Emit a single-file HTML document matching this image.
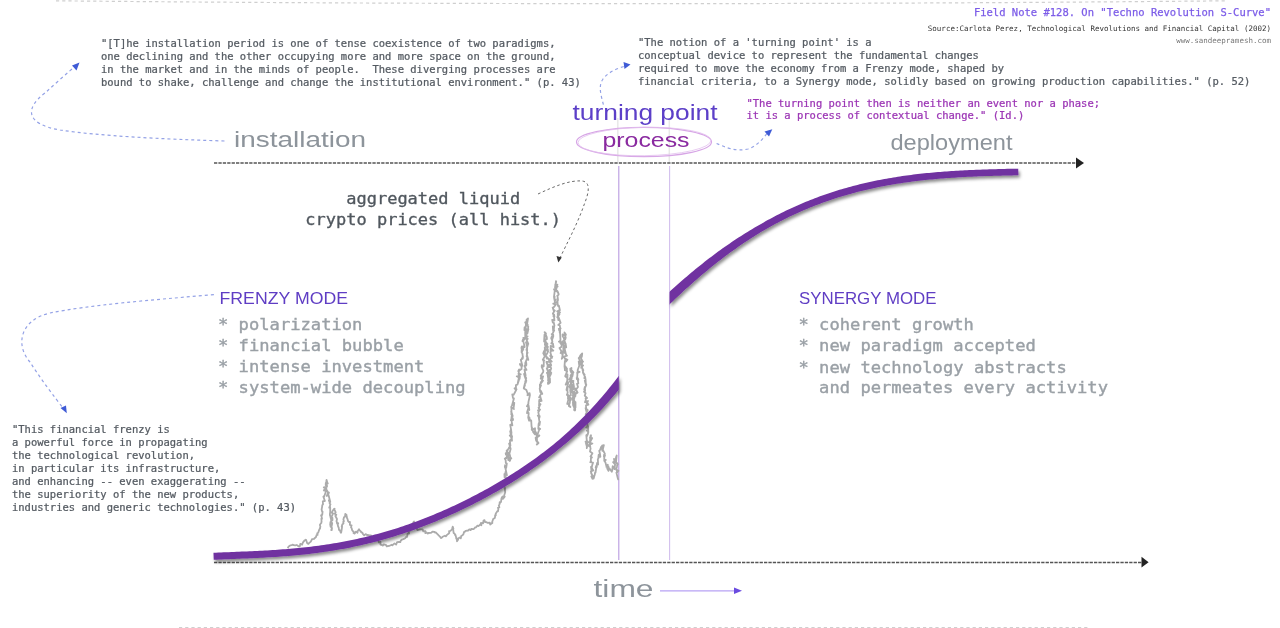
<!DOCTYPE html>
<html><head><meta charset="utf-8"><title>Techno Revolution S-Curve</title>
<style>
html,body{margin:0;padding:0;background:#fff;overflow:hidden;}
svg{display:block}
.m{font-family:"DejaVu Sans Mono","Liberation Mono",monospace;white-space:pre;}
text{white-space:pre;}
.h{font-family:"Liberation Sans","DejaVu Sans",sans-serif;}
</style></head><body>
<svg width="1280" height="628" viewBox="0 0 1280 628">
<defs>
<filter id="sh" x="-10%" y="-10%" width="130%" height="140%">
<feDropShadow dx="1.5" dy="2.5" stdDeviation="1.6" flood-color="#000" flood-opacity="0.45"/>
</filter>
</defs>
<rect width="1280" height="628" fill="#fff"/>
<!-- top dashed line -->
<path d="M56,0.8 Q640,6.5 1227,0.8" fill="none" stroke="#cfcfcf" stroke-width="1.2" stroke-dasharray="3.2 3"/>
<!-- bottom dashed line -->
<path d="M179,627.6 L1090,627.6" fill="none" stroke="#cfcfcf" stroke-width="1.4" stroke-dasharray="3.2 3"/>

<!-- faint vertical lines above axis -->
<line x1="617.8" y1="118" x2="617.8" y2="162" stroke="#e8e8e8" stroke-width="1.5"/>
<line x1="669.3" y1="118" x2="669.3" y2="162" stroke="#e8e8e8" stroke-width="1.5"/>

<!-- title block -->
<text class="m" x="1271" y="16" font-size="10.5" fill="#7c5ce8" stroke="#7c5ce8" stroke-width="0.25" text-anchor="end">Field Note #128. On "Techno Revolution S-Curve"</text>
<text class="m" x="1271" y="30.5" font-size="7.5" fill="#333" text-anchor="end">Source:Carlota Perez, Technological Revolutions and Financial Capital (2002)</text>
<text class="m" x="1271" y="43" font-size="7.5" fill="#777" text-anchor="end">www.sandeepramesh.com</text>

<!--SMALL-->
<!-- top-left quote -->
<g class="m" font-size="10.5" fill="#555b62" stroke="#555b62" stroke-width="0.25">
<text x="101" y="47" transform="matrix(1 0 0 0.93 0 3.290)">"[T]he installation period is one of tense coexistence of two paradigms,</text>
<text x="101" y="60" transform="matrix(1 0 0 0.93 0 4.200)">one declining and the other occupying more and more space on the ground,</text>
<text x="101" y="73" transform="matrix(1 0 0 0.93 0 5.110)">in the market and in the minds of people.  These diverging processes are</text>
<text x="101" y="86" transform="matrix(1 0 0 0.93 0 6.020)">bound to shake, challenge and change the institutional environment." (p. 43)</text>
</g>
<!-- top-middle quote -->
<g class="m" font-size="10.5" fill="#555b62" stroke="#555b62" stroke-width="0.25">
<text x="638" y="46" transform="matrix(1 0 0 0.93 0 3.220)">"The notion of a 'turning point' is a</text>
<text x="638" y="59" transform="matrix(1 0 0 0.93 0 4.130)">conceptual device to represent the fundamental changes</text>
<text x="638" y="72" transform="matrix(1 0 0 0.93 0 5.040)">required to move the economy from a Frenzy mode, shaped by</text>
<text x="638" y="85" transform="matrix(1 0 0 0.93 0 5.950)">financial criteria, to a Synergy mode, solidly based on growing production capabilities." (p. 52)</text>
</g>
<!-- purple quote -->
<g class="m" font-size="10.5" fill="#9c36b5" stroke="#9c36b5" stroke-width="0.25">
<text x="746.5" y="107" transform="matrix(1 0 0 0.93 0 7.490)">"The turning point then is neither an event nor a phase;</text>
<text x="746.5" y="119.5" transform="matrix(1 0 0 0.93 0 8.365)">it is a process of contextual change." (Id.)</text>
</g>

<!--/SMALL-->
<!-- handwritten labels -->
<text class="h" x="234" y="147.2" font-size="21.5" fill="#8d949b" textLength="132" lengthAdjust="spacingAndGlyphs">installation</text>
<text class="h" x="572.5" y="120" font-size="22" fill="#5c3fc8" textLength="145" lengthAdjust="spacingAndGlyphs">turning point</text>
<text class="h" x="602.5" y="147.2" font-size="20.5" fill="#8a2aa0" textLength="87" lengthAdjust="spacingAndGlyphs">process</text>
<text class="h" x="890.5" y="149.8" font-size="21.5" fill="#8d949b" textLength="122" lengthAdjust="spacingAndGlyphs">deployment</text>
<text class="h" x="593.5" y="596.8" font-size="23.5" fill="#8d949b" textLength="60" lengthAdjust="spacingAndGlyphs">time</text>

<!-- ellipse around process -->
<ellipse cx="644" cy="142" rx="67.5" ry="14.6" fill="none" stroke="#d7a6e6" stroke-width="1.2"/>
<ellipse cx="644.5" cy="141.5" rx="66.5" ry="14.2" fill="none" stroke="#e3c0ee" stroke-width="0.8" transform="rotate(-1 644 142)"/>

<!-- purple verticals -->
<line x1="618.8" y1="166" x2="618.8" y2="560" stroke="#b89ae0" stroke-width="1.1"/>
<line x1="669.6" y1="166" x2="669.6" y2="560" stroke="#d2bfee" stroke-width="1.1"/>

<!-- axes -->
<line x1="214" y1="163" x2="1078" y2="163" stroke="#555" stroke-width="1.5" stroke-dasharray="3.3 1.1"/>
<path d="M1076,157.5 L1084,163 L1076,168.5 Z" fill="#222"/>
<line x1="214" y1="562.5" x2="1143" y2="562.5" stroke="#555" stroke-width="1.5" stroke-dasharray="3.3 1.1"/>
<path d="M1141.5,556.8 L1148.6,562.3 L1141.5,567.6 Z" fill="#222"/>

<!-- time arrow -->
<line x1="660" y1="590.8" x2="736" y2="590.8" stroke="#b7a2f4" stroke-width="1.3"/>
<path d="M734,587.6 L742,590.8 L734,594 Z" fill="#6a4be0"/>

<!-- crypto chart -->
<path d="M287.7,548.2 L288.7,546.4 L290.5,545.3 L291.7,545.2 L292.9,544.7 L293.7,545.2 L295.2,545.4 L296.7,545.0 L298.9,546.5 L299.8,546.4 L300.3,543.8 L302.1,544.7 L303.0,542.3 L304.6,540.4 L305.4,540.0 L305.8,539.6 L306.1,540.0 L307.2,543.3 L308.4,543.9 L309.0,543.1 L310.8,541.6 L311.7,539.8 L312.0,539.2 L314.1,538.8 L314.6,538.2 L316.0,537.0 L316.5,535.2 L317.6,534.9 L317.2,533.3 L318.2,532.8 L319.1,530.0 L320.1,528.3 L319.7,528.7 L320.4,526.7 L320.0,525.4 L320.0,524.5 L321.3,523.0 L321.6,521.0 L321.5,520.4 L321.4,518.7 L322.0,518.7 L321.6,516.6 L321.1,515.4 L322.2,514.9 L322.6,511.7 L322.1,511.4 L321.6,509.5 L322.0,507.3 L322.0,507.7 L322.3,505.1 L323.0,504.4 L323.0,503.9 L322.8,501.4 L323.7,501.1 L324.9,501.0 L323.4,496.7 L324.3,495.8 L324.0,497.0 L326.1,491.0 L323.8,490.2 L324.1,490.5 L325.5,487.8 L323.8,487.5 L325.1,487.2 L327.1,486.7 L325.9,484.9 L326.6,480.0 L327.5,483.4 L326.4,480.3 L327.8,483.5 L326.4,482.3 L325.7,485.2 L325.8,482.9 L326.4,484.8 L327.0,485.4 L326.1,487.4 L326.6,490.1 L328.1,492.3 L326.8,496.0 L328.9,492.6 L327.9,495.2 L328.5,495.0 L330.3,501.9 L329.3,500.0 L328.9,500.3 L329.8,502.6 L329.6,503.3 L330.5,504.3 L329.2,507.7 L330.1,506.9 L330.2,507.9 L330.2,511.7 L330.8,512.3 L330.0,512.7 L329.9,515.1 L330.5,516.4 L330.3,516.3 L331.1,519.6 L331.2,520.4 L331.2,521.6 L330.4,522.3 L330.6,522.3 L330.2,524.3 L330.6,526.7 L331.8,527.3 L331.8,530.1 L331.2,530.1 L332.0,528.4 L330.9,526.7 L331.0,525.3 L331.7,525.7 L332.2,523.3 L332.0,522.8 L331.1,521.1 L332.5,520.0 L332.4,517.9 L331.5,517.4 L331.9,516.0 L333.0,513.6 L332.2,513.7 L332.4,511.2 L333.9,509.1 L334.6,508.7 L334.2,509.2 L335.7,512.3 L334.7,513.8 L336.3,514.8 L335.5,515.9 L335.4,516.0 L337.0,519.0 L336.5,521.2 L336.7,521.5 L337.1,523.7 L338.2,523.2 L337.7,524.7 L338.2,526.7 L338.7,527.5 L339.0,530.0 L339.8,530.1 L340.7,532.5 L341.0,532.7 L341.2,532.4 L341.6,530.1 L342.0,527.4 L342.1,526.5 L341.7,526.7 L342.3,524.5 L343.5,523.4 L343.2,521.9 L343.9,521.3 L343.4,519.4 L344.0,517.3 L345.1,516.5 L345.1,515.8 L345.3,513.8 L346.5,514.9 L346.6,516.3 L347.0,518.0 L347.5,518.9 L348.1,521.2 L349.0,522.2 L350.0,521.9 L349.9,524.9 L350.4,525.0 L351.6,525.3 L351.0,527.3 L351.6,528.0 L352.2,530.4 L353.9,532.2 L353.5,532.9 L354.7,533.6 L356.0,531.6 L357.5,532.7 L357.5,531.6 L359.0,529.3 L359.7,530.3 L361.5,532.2 L361.1,532.1 L362.5,532.9 L362.8,533.8 L364.2,535.3 L365.9,534.1 L367.0,535.1 L367.5,534.9 L369.8,535.3 L371.0,535.3 L371.5,537.4 L373.8,538.2 L373.9,537.2 L374.9,539.4 L376.5,538.6 L378.0,540.4 L378.9,542.5 L380.5,541.9 L380.4,544.6 L382.1,545.1 L383.0,545.6 L383.8,544.3 L386.2,545.1 L386.7,546.3 L389.0,545.8 L389.6,545.8 L391.7,544.7 L392.4,545.2 L394.5,543.4 L396.1,544.6 L397.1,542.1 L398.9,541.9 L400.3,542.2 L400.8,540.5 L401.8,539.7 L403.4,539.1 L405.2,538.2 L406.0,537.0 L407.1,537.0 L407.4,534.6 L407.8,533.4 L409.1,533.6 L408.7,532.2 L410.4,530.0 L410.8,529.7 L410.8,529.5 L411.2,527.5 L412.2,527.5 L412.2,525.9 L413.3,524.2 L413.3,522.3 L414.0,521.5 L413.8,521.8 L414.3,524.6 L415.1,524.3 L415.3,527.3 L417.1,528.1 L416.7,528.2 L417.5,530.1 L418.9,529.7 L420.4,529.4 L422.6,529.3 L423.3,531.4 L425.4,531.1 L425.3,533.1 L426.5,532.4 L427.8,533.6 L428.4,533.0 L430.5,532.9 L431.4,532.6 L432.4,531.6 L434.6,531.9 L434.9,532.5 L435.8,532.4 L437.2,533.8 L438.7,535.4 L439.9,536.6 L440.9,538.0 L441.5,537.9 L442.6,536.8 L444.9,535.7 L445.8,536.3 L446.7,535.3 L446.7,535.1 L448.8,533.5 L449.3,532.9 L449.1,531.1 L450.5,530.8 L451.7,529.7 L452.1,528.8 L452.7,526.7 L453.4,528.5 L453.0,528.1 L453.3,530.3 L453.6,532.9 L454.7,533.7 L455.2,535.1 L455.4,534.7 L456.3,538.0 L456.2,538.7 L456.9,538.8 L457.0,541.3 L458.2,539.6 L458.0,538.6 L459.9,537.4 L460.8,538.4 L461.3,535.8 L462.1,535.5 L463.4,534.3 L464.1,531.8 L464.7,531.9 L465.6,530.8 L468.1,530.5 L469.3,529.3 L470.7,530.1 L471.3,528.8 L473.6,529.2 L475.0,527.5 L476.1,527.3 L477.3,525.7 L478.7,526.0 L480.3,524.3 L481.4,525.2 L480.8,523.0 L483.1,523.4 L483.5,520.6 L484.5,520.2 L485.2,522.2 L486.3,522.1 L487.3,522.8 L489.8,522.7 L490.2,524.5 L491.5,523.5 L492.4,522.9 L492.1,522.3 L493.2,519.0 L493.2,519.1 L494.8,518.1 L495.1,516.3 L495.1,515.2 L495.8,515.3 L495.7,513.8 L497.5,510.9 L498.0,511.2 L498.4,508.9 L498.0,507.9 L499.4,507.2 L498.8,505.5 L499.5,504.5 L499.7,502.1 L500.1,503.0 L501.0,502.0 L501.5,498.2 L502.5,496.5 L503.1,497.3 L502.9,498.9 L504.7,496.7 L504.0,496.0 L505.2,492.3 L504.7,487.8 L504.9,489.1 L505.1,489.0 L503.8,483.9 L506.0,483.1 L504.8,483.1 L504.4,484.3 L505.2,481.5 L506.8,478.6 L505.8,477.6 L505.6,476.8 L504.4,474.0 L504.6,477.4 L505.6,471.7 L506.9,475.3 L505.5,468.5 L504.8,466.9 L505.3,465.5 L505.0,465.3 L506.2,468.0 L506.8,463.6 L505.8,463.0 L505.7,460.4 L504.8,458.7 L507.7,456.4 L506.3,458.3 L507.5,454.3 L505.7,453.2 L506.2,453.1 L508.0,454.4 L506.6,450.8 L508.2,449.0 L505.9,454.7 L509.0,454.5 L508.4,452.7 L508.2,459.9 L510.0,460.7 L510.8,458.1 L509.7,461.0 L508.5,457.5 L509.9,459.5 L511.3,458.4 L510.4,457.4 L509.8,454.7 L508.6,454.8 L509.2,454.4 L510.6,449.1 L509.0,447.4 L510.7,449.0 L509.1,443.6 L510.4,445.6 L510.0,442.0 L510.8,439.3 L509.9,440.8 L512.0,440.7 L511.8,438.2 L509.8,435.5 L512.2,437.1 L510.2,431.4 L510.8,434.2 L510.6,430.2 L511.5,433.2 L511.0,429.1 L510.2,424.8 L510.7,426.0 L511.9,423.2 L512.4,425.4 L511.5,420.6 L513.1,420.0 L512.7,418.1 L510.9,420.2 L511.2,420.1 L512.0,413.9 L511.2,414.1 L512.7,416.1 L511.2,411.3 L511.5,413.7 L511.4,406.4 L511.2,407.3 L514.0,409.1 L513.5,408.5 L514.3,402.9 L512.0,405.5 L513.9,398.4 L513.7,399.3 L512.9,397.7 L512.3,394.3 L512.8,395.2 L513.6,394.8 L515.5,391.1 L516.0,390.4 L514.6,393.0 L516.5,389.3 L514.5,388.3 L516.0,389.8 L515.9,385.0 L517.4,384.6 L518.9,380.2 L517.6,383.9 L518.9,377.6 L516.8,376.3 L519.9,376.2 L519.6,379.0 L518.5,373.6 L520.7,374.4 L518.7,373.7 L519.1,369.5 L518.3,371.2 L521.5,369.1 L521.8,363.8 L520.6,365.5 L519.9,364.0 L522.4,365.7 L520.8,359.8 L521.1,360.0 L522.9,356.6 L522.6,358.8 L522.9,357.7 L522.4,353.5 L521.6,352.3 L523.3,349.2 L521.6,352.1 L521.9,346.3 L521.4,348.1 L523.1,346.4 L522.7,348.1 L524.7,346.9 L522.9,339.7 L522.5,341.1 L524.6,339.4 L523.3,337.9 L524.7,338.2 L525.3,337.9 L525.2,332.0 L525.9,331.7 L525.2,330.9 L526.0,328.5 L524.6,327.4 L524.4,330.2 L526.0,325.3 L525.6,328.2 L526.1,322.0 L527.2,323.4 L528.0,318.5 L526.6,319.7 L526.6,323.1 L527.8,325.0 L525.2,322.3 L525.5,323.0 L528.3,326.8 L528.2,326.8 L528.1,328.6 L526.2,332.0 L528.4,329.1 L527.3,333.7 L526.1,333.4 L525.9,333.6 L526.3,337.5 L527.6,336.3 L525.6,338.4 L527.8,338.8 L526.7,340.2 L528.3,343.8 L526.0,342.2 L527.1,346.4 L527.9,344.8 L526.4,350.0 L527.2,348.7 L526.9,354.3 L527.6,352.7 L526.9,354.4 L526.9,354.8 L528.3,359.8 L526.6,356.1 L527.6,357.4 L525.2,363.2 L526.4,364.0 L526.2,365.7 L526.2,362.4 L524.6,366.3 L526.5,369.9 L524.6,369.3 L525.4,369.9 L524.5,369.8 L525.6,375.3 L524.1,373.8 L526.2,378.2 L524.1,374.1 L526.3,380.9 L524.7,376.3 L526.0,379.7 L525.8,382.6 L525.4,380.9 L525.1,382.7 L523.8,388.0 L525.0,385.0 L523.8,388.4 L524.4,388.8 L525.9,389.7 L526.3,389.8 L528.2,395.0 L528.9,393.5 L527.4,395.2 L529.6,393.2 L529.9,395.1 L529.1,399.2 L529.1,399.0 L528.4,402.1 L528.4,403.9 L528.4,403.8 L527.0,406.3 L528.5,405.2 L529.3,410.0 L528.3,407.5 L528.3,408.4 L527.2,411.8 L527.0,413.2 L528.3,412.0 L528.7,413.6 L528.2,417.6 L529.1,420.7 L529.4,417.3 L529.9,420.7 L531.2,420.4 L531.6,427.2 L532.0,427.3 L531.7,429.6 L532.7,430.7 L533.3,429.1 L535.0,428.2 L535.0,434.4 L533.1,432.0 L535.8,432.0 L536.6,434.0 L536.8,434.5 L536.2,440.7 L535.6,437.8 L537.0,439.4 L535.9,439.8 L537.8,443.1 L536.8,444.6 L538.5,443.0 L537.0,441.0 L536.9,438.0 L538.6,435.6 L539.4,435.5 L538.6,436.3 L537.1,435.7 L538.9,430.5 L539.5,428.4 L540.2,429.0 L538.3,428.9 L538.6,423.8 L539.6,421.7 L540.0,421.7 L539.5,425.0 L539.4,421.6 L538.6,416.1 L537.8,415.7 L539.7,416.2 L539.4,417.8 L538.3,412.2 L540.0,409.6 L538.0,410.4 L539.7,410.0 L538.5,407.7 L539.0,407.8 L540.3,404.0 L540.5,404.4 L539.0,406.0 L539.4,399.6 L539.1,401.4 L541.6,400.9 L540.2,396.3 L539.1,397.4 L540.9,394.1 L541.3,393.4 L542.3,393.9 L541.0,391.0 L540.3,392.2 L539.7,388.5 L541.0,385.3 L540.0,387.4 L539.9,384.6 L543.0,380.7 L540.7,382.3 L541.8,381.2 L542.9,376.8 L541.4,376.3 L540.7,378.7 L543.1,376.3 L540.7,375.8 L543.2,372.0 L543.3,370.6 L541.7,367.0 L541.8,365.2 L542.3,368.4 L542.9,365.5 L543.7,366.4 L543.8,361.4 L543.5,361.1 L544.3,360.3 L542.8,359.8 L545.2,355.7 L545.0,353.1 L543.2,353.2 L544.8,356.4 L545.0,351.1 L545.5,349.8 L543.6,352.2 L545.0,349.5 L545.2,350.0 L544.7,347.8 L545.6,346.6 L544.9,344.4 L545.5,340.4 L544.4,341.1 L544.1,341.6 L544.5,334.6 L544.5,339.1 L545.4,332.7 L546.0,333.7 L544.6,332.1 L546.8,337.2 L546.9,339.1 L544.9,339.5 L546.0,342.3 L547.5,344.0 L545.2,345.2 L548.0,347.0 L545.5,343.6 L545.6,343.8 L548.0,350.1 L547.4,351.4 L547.5,349.3 L545.9,349.4 L548.1,351.4 L546.8,354.1 L545.9,354.3 L546.8,358.6 L547.2,357.4 L549.2,359.8 L548.9,361.9 L546.4,361.9 L547.7,365.5 L547.5,366.3 L548.2,364.5 L549.3,365.0 L549.3,366.8 L546.8,368.3 L549.3,374.6 L546.9,372.8 L548.6,376.1 L547.7,375.4 L548.3,378.9 L548.1,380.9 L548.3,377.6 L549.7,380.7 L547.9,382.9 L549.2,383.3 L548.0,383.8 L550.0,382.5 L549.9,378.4 L549.3,377.4 L550.9,374.1 L551.0,372.4 L549.0,372.6 L551.3,372.8 L549.7,373.9 L549.3,369.9 L550.4,370.5 L551.2,368.5 L550.0,365.1 L549.5,367.1 L551.2,365.2 L549.7,361.9 L551.8,361.5 L549.8,359.4 L552.3,356.7 L550.2,355.8 L552.0,357.9 L550.3,352.2 L550.7,352.0 L551.7,349.6 L551.1,348.5 L553.3,350.6 L550.6,350.8 L550.7,345.8 L553.6,347.1 L552.9,343.5 L551.3,343.5 L552.4,341.3 L551.2,338.1 L552.2,335.7 L552.3,339.2 L553.3,336.1 L553.2,334.5 L551.7,334.1 L552.6,333.7 L554.2,330.4 L553.2,331.2 L552.8,326.5 L553.8,329.4 L554.1,326.9 L554.4,325.5 L553.8,322.7 L552.8,322.6 L552.2,319.9 L554.4,320.5 L554.0,316.2 L553.4,316.2 L554.1,314.6 L554.4,316.7 L552.9,313.6 L554.8,310.6 L554.0,310.0 L554.1,311.7 L552.7,307.6 L553.2,307.8 L555.8,304.7 L553.2,303.7 L554.8,303.3 L554.8,301.5 L555.9,299.4 L554.7,300.7 L554.1,297.7 L554.8,296.9 L554.0,296.9 L554.9,289.6 L554.7,290.5 L554.0,289.3 L555.4,289.7 L555.3,285.6 L555.0,287.3 L557.4,284.6 L555.2,285.0 L556.2,281.7 L556.0,281.2 L555.3,286.1 L557.6,286.5 L556.6,287.3 L556.0,291.2 L556.5,290.4 L558.1,292.9 L557.1,290.8 L557.5,291.1 L558.6,293.8 L558.7,294.6 L557.3,295.8 L557.6,296.7 L558.0,300.0 L556.5,302.7 L557.5,301.0 L557.6,303.8 L558.1,306.1 L558.9,305.7 L559.9,310.2 L557.2,311.3 L560.0,312.4 L557.6,314.0 L559.3,310.1 L557.3,317.4 L559.5,314.2 L557.8,314.8 L558.3,320.2 L558.7,317.5 L560.6,322.9 L558.3,324.9 L559.8,325.5 L560.1,327.6 L560.6,328.5 L558.8,328.9 L559.9,330.5 L559.7,332.8 L560.2,330.1 L559.2,330.6 L560.1,331.4 L560.1,333.3 L560.3,336.9 L560.5,340.5 L558.9,341.7 L560.5,341.2 L561.2,344.3 L560.3,343.0 L562.3,342.1 L561.3,347.0 L559.5,348.1 L561.6,351.5 L560.6,353.1 L561.3,351.3 L561.3,352.7 L562.9,351.0 L562.6,356.1 L561.8,358.8 L562.6,357.8 L562.3,356.3 L562.9,356.9 L562.0,353.4 L562.8,352.8 L564.1,349.8 L564.2,349.2 L563.3,347.0 L563.4,350.1 L564.0,347.6 L563.1,343.3 L563.1,343.6 L564.2,343.6 L562.4,341.8 L565.2,339.4 L562.7,336.5 L562.6,334.4 L565.6,335.8 L564.9,335.6 L564.5,332.4 L565.9,334.4 L565.0,335.8 L565.3,337.0 L565.3,335.8 L565.4,338.7 L565.7,337.7 L563.9,338.6 L565.9,345.6 L565.6,343.4 L566.2,347.4 L565.4,345.3 L564.6,347.7 L564.7,349.0 L565.8,353.6 L564.0,352.5 L564.0,351.0 L566.6,355.2 L567.0,355.7 L564.1,356.6 L566.1,361.5 L567.4,359.8 L565.6,358.7 L566.4,360.8 L564.9,360.8 L564.5,366.4 L564.9,369.5 L564.9,370.2 L565.1,366.1 L567.0,368.8 L566.4,371.8 L567.2,371.1 L565.2,376.2 L567.4,378.0 L567.5,374.4 L567.3,379.8 L566.9,382.5 L566.3,384.0 L567.9,379.3 L565.7,384.7 L568.4,382.3 L566.9,387.8 L566.5,390.0 L567.7,386.2 L567.4,390.8 L567.7,392.8 L566.9,394.9 L567.7,395.2 L568.6,395.1 L567.9,398.8 L569.8,400.1 L568.7,398.3 L567.2,403.9 L569.4,404.3 L568.3,404.2 L570.4,407.0 L569.0,406.2 L569.4,403.7 L568.9,406.0 L568.9,403.4 L569.7,403.5 L570.4,398.2 L567.9,396.8 L569.4,397.5 L570.7,398.1 L568.3,396.5 L570.9,395.4 L570.2,390.3 L571.2,392.4 L570.7,391.7 L569.7,385.1 L570.5,388.3 L569.4,386.7 L571.8,382.1 L570.9,383.6 L570.5,379.3 L569.9,381.5 L571.7,378.3 L569.6,379.2 L571.9,374.2 L571.3,377.1 L572.4,373.4 L571.2,372.5 L570.3,368.7 L570.4,370.6 L571.5,368.0 L571.1,369.7 L571.4,370.7 L570.6,369.0 L573.4,372.4 L570.6,375.4 L572.9,373.7 L572.4,376.2 L572.2,375.4 L570.7,383.0 L573.5,381.0 L572.6,380.9 L573.4,383.3 L574.0,386.8 L573.7,389.3 L571.9,384.7 L571.8,387.0 L571.5,387.4 L573.1,394.0 L572.9,395.8 L574.4,391.5 L573.5,394.9 L572.1,399.8 L572.6,398.6 L573.9,402.4 L574.1,400.1 L573.4,399.9 L575.2,406.6 L572.9,401.8 L573.1,405.1 L575.2,410.0 L575.1,405.8 L574.1,410.0 L575.2,410.0 L574.9,410.5 L573.2,403.8 L575.5,407.5 L575.5,402.1 L575.3,403.7 L573.9,399.6 L574.6,397.0 L575.5,396.0 L574.8,394.5 L576.4,392.3 L576.7,392.1 L574.7,395.5 L575.4,394.2 L577.6,392.6 L575.5,388.5 L575.5,390.2 L578.0,387.0 L577.0,383.8 L578.3,383.4 L577.8,379.9 L576.7,378.0 L578.4,379.9 L577.9,378.2 L576.9,379.2 L577.4,374.9 L577.2,372.7 L579.6,371.8 L577.6,371.4 L578.2,372.7 L577.7,371.8 L577.7,370.0 L579.8,364.2 L579.3,363.4 L578.7,361.5 L579.2,365.2 L581.4,363.4 L578.7,358.0 L581.4,355.2 L581.0,355.3 L580.4,355.3 L582.2,353.5 L581.8,357.0 L579.9,356.2 L582.4,360.9 L580.5,361.6 L583.1,361.6 L582.2,362.4 L581.2,367.8 L583.1,365.5 L581.3,366.1 L583.3,370.1 L582.4,369.6 L583.7,374.1 L584.6,374.7 L582.9,372.7 L584.8,376.3 L584.3,378.2 L585.1,376.7 L585.6,379.8 L585.8,384.6 L584.8,380.5 L586.3,384.8 L586.3,384.8 L584.2,389.7 L584.9,386.8 L585.1,390.9 L584.0,391.7 L585.6,393.1 L584.7,395.7 L587.0,398.0 L585.6,398.3 L585.9,399.9 L585.0,402.1 L588.0,401.0 L586.7,402.6 L586.8,403.7 L587.0,402.0 L588.4,404.7 L586.0,405.3 L586.3,411.3 L585.6,408.1 L587.8,410.1 L585.7,414.1 L587.6,415.0 L588.0,413.7 L588.6,419.0 L587.5,419.0 L586.0,417.9 L587.4,421.7 L586.7,420.6 L587.1,422.0 L587.6,427.9 L586.2,427.4 L588.1,426.1 L588.3,432.4 L586.9,430.4 L588.3,432.4 L586.8,436.4 L588.0,433.9 L586.3,435.2 L586.8,440.7 L588.0,441.6 L588.0,442.5 L585.5,441.7 L588.4,445.7 L586.1,443.7 L587.3,444.7 L586.9,444.1 L586.8,448.2 L587.0,447.0 L586.0,443.4 L589.4,446.2 L589.7,444.0 L589.7,444.3 L590.3,437.6 L589.9,437.8 L590.4,436.6 L590.4,439.5 L590.6,435.5 L591.0,435.2 L590.8,437.7 L592.2,438.1 L590.2,441.7 L589.7,442.7 L592.4,443.5 L590.3,444.5 L591.2,443.7 L589.9,444.9 L590.5,448.0 L590.6,448.3 L590.0,451.5 L592.4,453.3 L591.6,454.8 L590.5,456.5 L591.4,456.8 L591.9,457.6 L591.0,457.5 L590.8,460.5 L591.4,462.3 L590.2,462.1 L593.0,462.7 L592.1,465.6 L591.3,470.1 L591.4,470.0 L591.0,466.8 L593.3,470.5 L590.8,471.5 L592.1,475.1 L591.1,473.1 L593.9,477.7 L591.3,476.4 L592.5,478.8 L592.4,478.6 L593.6,478.5 L594.6,475.1 L594.7,475.2 L595.1,472.3 L595.5,472.5 L596.3,467.5 L596.5,465.4 L595.7,467.3 L596.9,466.6 L596.4,467.7 L597.1,463.0 L598.1,464.6 L597.9,460.2 L597.8,459.4 L599.0,457.1 L598.4,457.5 L598.7,454.7 L600.4,456.8 L599.8,453.0 L599.2,450.8 L599.5,451.3 L601.2,446.9 L602.7,447.1 L602.8,449.1 L602.1,445.7 L603.9,445.1 L602.4,450.9 L601.4,446.6 L603.4,450.8 L604.9,453.8 L603.9,456.5 L604.1,454.7 L605.0,455.2 L604.2,457.8 L604.5,461.3 L605.8,459.9 L604.2,460.2 L605.5,462.6 L606.3,465.9 L607.8,464.7 L606.4,466.9 L608.5,466.3 L607.2,468.6 L608.5,470.9 L609.2,468.1 L611.8,471.7 L612.3,469.9 L612.7,466.1 L614.3,468.6 L614.5,469.2 L615.1,464.3 L613.1,462.2 L614.6,462.3 L614.0,458.9 L615.8,460.3 L615.3,461.5 L616.1,457.1 L616.7,455.5 L616.1,461.7 L615.8,462.4 L615.0,461.3 L617.8,464.4 L617.4,463.3 L616.9,466.9 L616.3,468.9 L617.3,472.5 L617.5,470.1 L616.2,469.8 L618.4,470.9 L616.4,472.6 L617.8,478.2 L618.2,479.4 L618.0,478.8" fill="none" stroke="#ababab" stroke-width="1.8" stroke-linejoin="round"/>

<!-- S-curves -->
<clipPath id="cl"><rect x="200" y="150" width="418.8" height="420"/><rect x="669.6" y="150" width="400" height="420"/></clipPath>
<g filter="url(#sh)">
<g clip-path="url(#cl)">
<path d="M213.75,559.77 L216.32,559.66 L218.90,559.55 L221.47,559.45 L224.04,559.34 L226.61,559.24 L229.19,559.13 L231.76,559.03 L234.34,558.93 L236.91,558.83 L239.49,558.72 L242.07,558.62 L244.65,558.51 L247.22,558.40 L249.80,558.29 L252.38,558.17 L254.96,558.05 L257.54,557.92 L260.13,557.79 L262.71,557.66 L265.29,557.52 L267.87,557.37 L270.46,557.22 L273.04,557.06 L275.63,556.89 L278.21,556.72 L280.80,556.53 L283.38,556.34 L285.97,556.14 L288.56,555.93 L291.15,555.71 L293.73,555.49 L296.32,555.25 L298.91,555.00 L301.50,554.74 L304.09,554.47 L306.68,554.19 L309.27,553.89 L311.86,553.59 L314.45,553.27 L317.04,552.94 L319.64,552.59 L322.23,552.24 L324.82,551.87 L327.41,551.49 L330.01,551.09 L332.60,550.68 L335.19,550.25 L337.79,549.81 L340.38,549.36 L342.97,548.89 L345.57,548.41 L348.16,547.91 L350.76,547.40 L353.35,546.87 L355.95,546.32 L358.54,545.76 L361.14,545.18 L363.73,544.59 L366.33,543.98 L368.92,543.35 L371.52,542.71 L374.11,542.05 L376.71,541.38 L379.30,540.69 L381.90,539.98 L384.49,539.25 L387.09,538.51 L389.68,537.75 L392.28,536.97 L394.87,536.18 L397.47,535.37 L400.06,534.54 L402.66,533.69 L405.25,532.83 L407.85,531.95 L410.44,531.05 L413.04,530.13 L415.63,529.20 L418.23,528.25 L420.82,527.29 L423.41,526.30 L426.01,525.30 L428.60,524.28 L431.19,523.25 L433.79,522.20 L436.38,521.13 L438.97,520.04 L441.56,518.94 L444.16,517.82 L446.75,516.68 L449.34,515.53 L451.93,514.36 L454.52,513.18 L457.12,511.98 L459.71,510.76 L462.30,509.52 L464.89,508.27 L467.48,507.00 L470.07,505.72 L472.66,504.42 L475.26,503.10 L477.85,501.76 L480.44,500.41 L483.03,499.04 L485.62,497.64 L488.21,496.24 L490.81,494.81 L493.40,493.36 L495.99,491.90 L498.58,490.41 L501.17,488.90 L503.77,487.38 L506.36,485.83 L508.95,484.26 L511.55,482.67 L514.14,481.06 L516.73,479.42 L519.33,477.76 L521.92,476.07 L524.52,474.36 L527.11,472.63 L529.71,470.87 L532.30,469.08 L534.90,467.27 L537.49,465.43 L540.09,463.55 L542.68,461.65 L545.28,459.72 L547.88,457.76 L550.47,455.77 L553.07,453.74 L555.67,451.68 L558.26,449.59 L560.86,447.46 L563.47,445.30 L566.09,443.13 L568.71,440.91 L571.33,438.66 L573.95,436.36 L576.57,434.02 L579.20,431.64 L581.82,429.22 L584.44,426.75 L587.07,424.24 L589.69,421.68 L592.32,419.07 L594.94,416.41 L597.57,413.70 L600.19,410.94 L602.82,408.13 L605.44,405.26 L608.07,402.34 L610.70,399.36 L613.32,396.32 L615.95,393.22 L618.58,390.07 L621.21,386.85 L623.83,383.56 L626.46,380.21 L619.54,374.93 L617.02,378.25 L614.50,381.52 L611.97,384.72 L609.45,387.86 L606.93,390.94 L604.40,393.96 L601.88,396.93 L599.36,399.84 L596.84,402.70 L594.31,405.50 L591.79,408.26 L589.26,410.96 L586.74,413.62 L584.21,416.22 L581.69,418.78 L579.16,421.30 L576.64,423.77 L574.11,426.20 L571.58,428.58 L569.06,430.93 L566.53,433.23 L564.00,435.50 L561.47,437.73 L558.94,439.92 L556.40,442.06 L553.85,444.15 L551.29,446.21 L548.74,448.24 L546.19,450.23 L543.63,452.19 L541.08,454.12 L538.53,456.02 L535.97,457.89 L533.42,459.73 L530.86,461.55 L528.31,463.33 L525.76,465.09 L523.20,466.82 L520.65,468.53 L518.09,470.22 L515.54,471.87 L512.98,473.51 L510.42,475.12 L507.87,476.71 L505.31,478.28 L502.75,479.83 L500.20,481.36 L497.64,482.86 L495.08,484.35 L492.53,485.81 L489.97,487.26 L487.41,488.69 L484.85,490.09 L482.30,491.49 L479.74,492.86 L477.18,494.21 L474.62,495.55 L472.06,496.87 L469.50,498.17 L466.95,499.46 L464.39,500.73 L461.83,501.98 L459.27,503.21 L456.71,504.43 L454.15,505.63 L451.60,506.82 L449.04,507.99 L446.48,509.14 L443.92,510.28 L441.37,511.40 L438.81,512.50 L436.25,513.59 L433.69,514.66 L431.14,515.72 L428.58,516.75 L426.02,517.77 L423.47,518.78 L420.91,519.76 L418.36,520.73 L415.80,521.69 L413.24,522.62 L410.69,523.54 L408.13,524.44 L405.58,525.33 L403.02,526.19 L400.47,527.04 L397.91,527.88 L395.36,528.69 L392.80,529.49 L390.25,530.27 L387.70,531.04 L385.14,531.78 L382.59,532.52 L380.03,533.23 L377.48,533.93 L374.92,534.61 L372.37,535.27 L369.81,535.92 L367.26,536.55 L364.71,537.17 L362.15,537.77 L359.60,538.35 L357.04,538.92 L354.49,539.48 L351.93,540.01 L349.38,540.53 L346.82,541.04 L344.27,541.53 L341.71,542.01 L339.15,542.47 L336.60,542.92 L334.04,543.35 L331.49,543.77 L328.93,544.17 L326.37,544.56 L323.82,544.94 L321.26,545.31 L318.70,545.66 L316.14,546.00 L313.58,546.32 L311.03,546.64 L308.47,546.94 L305.91,547.23 L303.35,547.51 L300.79,547.77 L298.23,548.03 L295.67,548.28 L293.11,548.51 L290.54,548.74 L287.98,548.96 L285.42,549.16 L282.86,549.36 L280.29,549.55 L277.73,549.73 L275.17,549.91 L272.60,550.07 L270.03,550.23 L267.47,550.38 L264.90,550.53 L262.34,550.67 L259.77,550.80 L257.20,550.93 L254.63,551.06 L252.06,551.18 L249.49,551.29 L246.92,551.41 L244.35,551.52 L241.78,551.62 L239.21,551.73 L236.63,551.83 L234.06,551.94 L231.49,552.04 L228.91,552.14 L226.33,552.24 L223.76,552.35 L221.18,552.45 L218.60,552.56 L216.02,552.67 L213.45,552.78 Z" fill="#7030a0"/>
<path d="M668.23,305.69 L670.42,303.55 L672.61,301.43 L674.80,299.33 L676.99,297.25 L679.17,295.19 L681.36,293.14 L683.55,291.12 L685.74,289.11 L687.93,287.13 L690.11,285.16 L692.30,283.21 L694.49,281.28 L696.68,279.38 L698.86,277.49 L701.05,275.62 L703.24,273.77 L705.43,271.94 L707.61,270.13 L709.80,268.34 L711.99,266.57 L714.18,264.82 L716.36,263.08 L718.55,261.37 L720.74,259.68 L722.93,258.01 L725.11,256.35 L727.30,254.72 L729.49,253.11 L731.68,251.51 L733.87,249.94 L736.05,248.38 L738.24,246.85 L740.43,245.33 L742.62,243.84 L744.80,242.36 L746.99,240.90 L749.18,239.47 L751.37,238.05 L753.56,236.65 L755.75,235.27 L757.93,233.91 L760.12,232.57 L762.31,231.25 L764.52,229.97 L766.72,228.70 L768.92,227.46 L771.12,226.24 L773.32,225.03 L775.52,223.84 L777.72,222.68 L779.92,221.53 L782.12,220.40 L784.33,219.28 L786.53,218.19 L788.73,217.11 L790.93,216.06 L793.13,215.02 L795.33,213.99 L797.53,212.99 L799.73,212.00 L801.93,211.03 L804.13,210.08 L806.33,209.15 L808.53,208.23 L810.73,207.33 L812.93,206.45 L815.13,205.58 L817.33,204.73 L819.53,203.90 L821.73,203.08 L823.93,202.28 L826.13,201.50 L828.33,200.73 L830.53,199.98 L832.73,199.24 L834.93,198.52 L837.13,197.81 L839.34,197.12 L841.54,196.44 L843.74,195.78 L845.94,195.13 L848.14,194.50 L850.34,193.88 L852.55,193.27 L854.75,192.68 L856.95,192.10 L859.15,191.54 L861.36,190.99 L863.56,190.45 L865.76,189.93 L867.96,189.41 L870.17,188.92 L872.37,188.43 L874.58,187.95 L876.78,187.49 L878.98,187.04 L881.19,186.60 L883.39,186.18 L885.60,185.76 L887.80,185.36 L890.01,184.96 L892.21,184.58 L894.42,184.21 L896.63,183.85 L898.83,183.50 L901.04,183.16 L903.25,182.83 L905.45,182.51 L907.66,182.20 L909.87,181.90 L912.08,181.61 L914.28,181.33 L916.49,181.05 L918.70,180.79 L920.91,180.53 L923.12,180.29 L925.33,180.05 L927.54,179.82 L929.75,179.60 L931.96,179.38 L934.17,179.17 L936.38,178.97 L938.59,178.78 L940.80,178.60 L943.01,178.42 L945.23,178.25 L947.44,178.08 L949.65,177.92 L951.86,177.77 L954.08,177.63 L956.29,177.49 L958.50,177.35 L960.72,177.22 L962.93,177.10 L965.14,176.98 L967.36,176.87 L969.57,176.76 L971.79,176.66 L974.00,176.56 L976.22,176.46 L978.43,176.37 L980.65,176.28 L982.87,176.20 L985.08,176.12 L987.30,176.04 L989.52,175.97 L991.74,175.90 L993.95,175.83 L996.17,175.77 L998.39,175.71 L1000.61,175.65 L1002.83,175.59 L1005.05,175.53 L1007.27,175.48 L1009.49,175.43 L1011.71,175.38 L1013.93,175.33 L1016.15,175.28 L1018.37,175.23 L1018.23,168.63 L1016.01,168.68 L1013.79,168.72 L1011.56,168.77 L1009.34,168.82 L1007.11,168.86 L1004.89,168.92 L1002.66,168.97 L1000.44,169.02 L998.21,169.08 L995.99,169.14 L993.76,169.20 L991.54,169.26 L989.31,169.33 L987.08,169.40 L984.86,169.47 L982.63,169.55 L980.40,169.63 L978.17,169.71 L975.94,169.80 L973.72,169.89 L971.49,169.99 L969.26,170.09 L967.03,170.20 L964.80,170.31 L962.57,170.42 L960.34,170.54 L958.11,170.67 L955.88,170.80 L953.65,170.94 L951.42,171.08 L949.19,171.23 L946.95,171.39 L944.72,171.55 L942.49,171.72 L940.26,171.90 L938.02,172.08 L935.79,172.27 L933.56,172.47 L931.32,172.68 L929.09,172.89 L926.86,173.11 L924.62,173.34 L922.39,173.58 L920.15,173.82 L917.92,174.08 L915.68,174.34 L913.45,174.62 L911.21,174.90 L908.97,175.19 L906.74,175.49 L904.50,175.80 L902.26,176.12 L900.03,176.45 L897.79,176.80 L895.55,177.15 L893.31,177.51 L891.08,177.88 L888.84,178.27 L886.60,178.66 L884.36,179.07 L882.12,179.49 L879.88,179.92 L877.64,180.36 L875.40,180.81 L873.16,181.28 L870.92,181.76 L868.68,182.25 L866.44,182.75 L864.20,183.27 L861.96,183.80 L859.72,184.34 L857.48,184.90 L855.24,185.47 L852.99,186.05 L850.75,186.65 L848.51,187.27 L846.27,187.89 L844.03,188.53 L841.78,189.19 L839.54,189.86 L837.30,190.55 L835.06,191.25 L832.81,191.97 L830.57,192.70 L828.33,193.45 L826.08,194.21 L823.84,194.99 L821.60,195.79 L819.35,196.60 L817.11,197.43 L814.86,198.27 L812.62,199.14 L810.38,200.02 L808.13,200.91 L805.89,201.83 L803.65,202.76 L801.40,203.71 L799.16,204.67 L796.91,205.66 L794.67,206.66 L792.43,207.68 L790.18,208.72 L787.94,209.78 L785.70,210.85 L783.45,211.94 L781.21,213.06 L778.96,214.19 L776.72,215.33 L774.48,216.50 L772.23,217.69 L769.99,218.89 L767.75,220.12 L765.51,221.36 L763.26,222.63 L761.02,223.91 L758.78,225.21 L756.53,226.51 L754.27,227.83 L752.02,229.17 L749.76,230.53 L747.50,231.91 L745.25,233.30 L742.99,234.72 L740.74,236.16 L738.48,237.61 L736.22,239.09 L733.97,240.59 L731.71,242.10 L729.46,243.64 L727.20,245.20 L724.94,246.77 L722.69,248.37 L720.43,249.99 L718.17,251.62 L715.92,253.28 L713.66,254.96 L711.40,256.65 L709.15,258.37 L706.89,260.11 L704.63,261.86 L702.38,263.64 L700.12,265.44 L697.86,267.25 L695.61,269.09 L693.35,270.95 L691.10,272.82 L688.84,274.72 L686.58,276.63 L684.33,278.57 L682.07,280.52 L679.81,282.50 L677.56,284.49 L675.30,286.51 L673.05,288.54 L670.79,290.59 L668.53,292.66 L666.28,294.75 L664.02,296.86 L661.77,298.99 Z" fill="#7030a0"/>
</g>
</g>

<!--BIG-->
<!-- aggregated label -->
<g class="m" font-size="17" fill="#50575e" stroke="#50575e" stroke-width="0.35" text-anchor="middle">
<text x="433.2" y="203.6" transform="matrix(1 0 0 0.88 0 24.432)">aggregated liquid</text>
<text x="433.2" y="225" transform="matrix(1 0 0 0.88 0 27.000)">crypto prices (all hist.)</text>
</g>

<!-- FRENZY / SYNERGY -->
<text class="h" x="219.5" y="304.3" font-size="17" fill="#5f3dc4" textLength="128.5" lengthAdjust="spacingAndGlyphs">FRENZY MODE</text>
<text class="h" x="799" y="304.3" font-size="17" fill="#5f3dc4" textLength="137.5" lengthAdjust="spacingAndGlyphs">SYNERGY MODE</text>
<g class="m" font-size="17.15" fill="#9aa0a6" stroke="#9aa0a6" stroke-width="0.4">
<text x="218" y="330" transform="matrix(1 0 0 0.88 0 39.600)">* polarization</text>
<text x="218" y="351" transform="matrix(1 0 0 0.88 0 42.120)">* financial bubble</text>
<text x="218" y="372" transform="matrix(1 0 0 0.88 0 44.640)">* intense investment</text>
<text x="218" y="393" transform="matrix(1 0 0 0.88 0 47.160)">* system-wide decoupling</text>
<text x="798.5" y="330" transform="matrix(1 0 0 0.88 0 39.600)">* coherent growth</text>
<text x="798.5" y="351.5" transform="matrix(1 0 0 0.88 0 42.180)">* new paradigm accepted</text>
<text x="798.5" y="372.7" transform="matrix(1 0 0 0.88 0 44.724)">* new technology abstracts</text>
<text x="798.5" y="393.3" transform="matrix(1 0 0 0.88 0 47.196)">  and permeates every activity</text>
</g>

<!--/BIG-->
<!-- bottom-left quote -->
<!--SMALL2-->
<g class="m" font-size="10.5" fill="#555b62" stroke="#555b62" stroke-width="0.25">
<text x="12" y="433.2" transform="matrix(1 0 0 0.93 0 30.324)">"This financial frenzy is</text>
<text x="12" y="446.2" transform="matrix(1 0 0 0.93 0 31.234)">a powerful force in propagating</text>
<text x="12" y="459.2" transform="matrix(1 0 0 0.93 0 32.144)">the technological revolution,</text>
<text x="12" y="472.2" transform="matrix(1 0 0 0.93 0 33.054)">in particular its infrastructure,</text>
<text x="12" y="485.2" transform="matrix(1 0 0 0.93 0 33.964)">and enhancing -- even exaggerating --</text>
<text x="12" y="498.2" transform="matrix(1 0 0 0.93 0 34.874)">the superiority of the new products,</text>
<text x="12" y="511.2" transform="matrix(1 0 0 0.93 0 35.784)">industries and generic technologies." (p. 43)</text>
</g>

<!--/SMALL2-->
<!-- dashed blue arrows -->
<g fill="none" stroke="#94a2e6" stroke-width="1.2" stroke-dasharray="3 3">
<path d="M224.5,141 C160,139 100,136 60,130 C25,124 25,108 45,93 C55,84 68,72 77,65"/>
<path d="M213.9,294.7 C150,300 90,305 50,313 C20,320 15,345 30,362 C40,378 55,398 64,409"/>
<path d="M603.4,104.7 C601,95 598,86 603,79 C608,72 618,68 627,65.5"/>
<path d="M716.6,143.5 C725,147 735,152 748,149 C758,146 765,136 769,131"/>
</g>
<g fill="#3f5bd6">
<path d="M79.5,62.5 L72,65.5 L76.5,70.5 Z"/>
<path d="M66.8,413.2 L60.5,408 L66,405.5 Z"/>
<path d="M630.5,64.5 L623.5,62 L624.5,69 Z"/>
<path d="M772.3,129.2 L764.5,131.5 L769,136.5 Z"/>
</g>
<!-- dark dashed arrow for crypto label -->
<path d="M538,194 C555,186 570,180 582,181 C592,182 588,195 584,205 C577,225 566,245 560,258" fill="none" stroke="#6a6a6a" stroke-width="1" stroke-dasharray="2.6 2.6"/>
<path d="M558.3,262.5 L556.5,256 L561.8,257.5 Z" fill="#333"/>
</svg>
</body></html>
